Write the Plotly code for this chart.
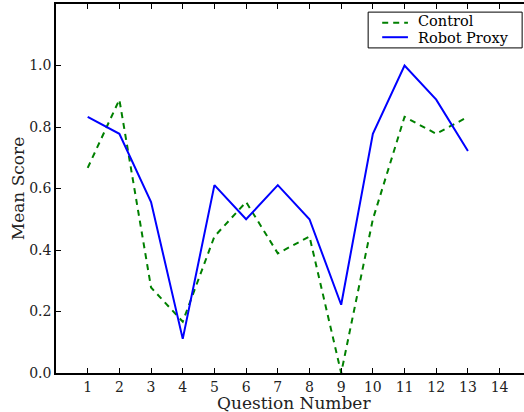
import plotly.graph_objects as go

questions = list(range(1, 14))
control = [0.667, 0.889, 0.278, 0.167, 0.444, 0.556, 0.389, 0.444, 0.0, 0.5, 0.833, 0.778, 0.833]
robot = [0.833, 0.778, 0.556, 0.111, 0.611, 0.5, 0.611, 0.5, 0.222, 0.778, 1.0, 0.889, 0.722]
xticks = list(range(1, 15))
yticks = [0.0, 0.2, 0.4, 0.6, 0.8, 1.0]
series_names = ["Control", "Robot Proxy"]
series_colors = ["#008000", "#0000ff"]
series_dash = ["6px,5px", "solid"]

fig = go.Figure()
for name, vals, col, dsh in zip(series_names, [control, robot], series_colors, series_dash):
    fig.add_trace(go.Scatter(x=questions, y=vals, mode="lines", name=name, showlegend=False,
                             line=dict(color=col, width=2, dash=dsh)))

# manual legend (matplotlib-like compact box)
fig.add_shape(type="rect", xref="paper", yref="paper", x0=0.667, x1=0.996, y0=0.881, y1=0.978,
              line=dict(color="black", width=1), fillcolor="white", layer="above")
leg_y_line = [0.949, 0.910]
leg_y_text = [0.953, 0.908]
for name, col, dsh, yl, yt in zip(series_names, series_colors, series_dash, leg_y_line, leg_y_text):
    fig.add_shape(type="line", xref="paper", yref="paper", x0=0.697, x1=0.752, y0=yl, y1=yl,
                  line=dict(color=col, width=2, dash=dsh), layer="above")
    fig.add_annotation(text=name, xref="paper", yref="paper", x=0.772, y=yt,
                       xanchor="left", yanchor="middle", showarrow=False, borderpad=0,
                       font=dict(family="DejaVu Serif", size=14.5, color="black"))

# x axis title as annotation (centred on the full matplotlib axes)
fig.add_annotation(text="Question Number", xref="x", yref="paper", x=7.5, y=0, yshift=-30,
                   xanchor="center", yanchor="middle", showarrow=False, borderpad=0,
                   font=dict(family="DejaVu Serif", size=17, color="#222"))

fig.update_layout(
    width=524, height=412,
    margin=dict(l=56, r=0, t=4, b=39),
    paper_bgcolor="white", plot_bgcolor="white",
    font=dict(family="DejaVu Serif", size=14, color="#222"),
    showlegend=False,
    xaxis=dict(range=[0, 14.77], tickvals=xticks, ticktext=[str(t) for t in xticks],
               ticks="inside", ticklen=5, tickcolor="black", showline=True,
               linecolor="black", linewidth=1.5, mirror="ticks", showgrid=False,
               zeroline=False),
    yaxis=dict(range=[0, 1.2], tickvals=yticks, ticktext=[f"{v:.1f}" for v in yticks],
               ticks="inside", ticklen=5, tickcolor="black", showline=True,
               linecolor="black", linewidth=1.5, showgrid=False, zeroline=False,
               title=dict(text="Mean Score", standoff=0,
                          font=dict(family="DejaVu Serif", size=17, color="#222"))),
)
fig.write_html("out.html")
